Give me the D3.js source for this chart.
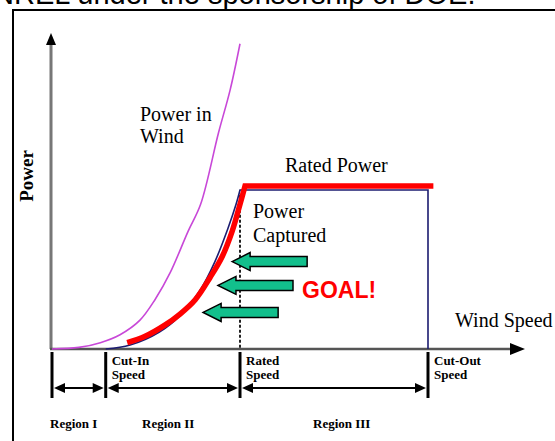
<html>
<head>
<meta charset="utf-8" />
<script src="https://d3js.org/d3.v7.min.js"></script>
<style>
  body { margin: 0; background: #fff; }
</style>
</head>
<body>
<div class="container"></div>
<script>
  // values: wind speed (arbitrary units) vs power (rated = 1)
  const windSpeed = [0, 1.5, 2.7, 3.8, 4.9, 5.75, 6.6, 7.6, 8.3, 9.3, 9.95, 10.5];
  const powerInWind = [0, 0.01, 0.04, 0.09, 0.18, 0.31, 0.48, 0.74, 0.91, 1.36, 1.63, 1.92];

  const capturedSpeed = [3, 4.36, 6.0, 7.15, 8.27, 9.1, 9.83, 10.28, 10.5];
  const capturedPower = [0, 0.025, 0.107, 0.21, 0.37, 0.55, 0.76, 0.91, 1];

  const goalSpeed = [4.2, 5.2, 6.3, 7.15, 8.0, 8.83, 9.5, 10.06, 10.5, 10.78];
  const goalPower = [0.04, 0.08, 0.15, 0.22, 0.31, 0.45, 0.58, 0.74, 0.91, 1.025];

  const ratedPower = 1;
  const cutOutSpeed = 21;
  const speedMarks = [0, 3, 10.5, 21]; // origin, cut-in, rated, cut-out
  const speedLabels = [null, ["Cut-In", "Speed"], ["Rated", "Speed"], ["Cut-Out", "Speed"]];
  const regionNames = ["Region I", "Region II", "Region III"];
  const arrowTips = [[10.06, 0.55], [9.27, 0.4], [8.44, 0.23]];
  const arrowTails = [14.25, 13.46, 12.63];

  const width = 555;
  const height = 441;
  const serif = "'Liberation Serif', 'Times New Roman', serif";
  const sans = "'Liberation Sans', Arial, sans-serif";

  const x = d3.scaleLinear().domain([0, 21]).range([52, 428]);
  const y = d3.scaleLinear().domain([0, 1]).range([349, 190]);

  const svg = d3
    .select(".container")
    .append("svg")
    .attr("width", width)
    .attr("height", height)
    .attr("viewBox", [0, 0, width, height]);

  // slide text above the frame (cut off at the top like the source)
  svg
    .append("text")
    .attr("x", -7)
    .attr("y", 4)
    .attr("font-family", sans)
    .attr("font-size", 29)
    .text("NREL under the sponsorship of DOE.");

  svg
    .append("rect")
    .attr("x", 13)
    .attr("y", 10)
    .attr("width", 700)
    .attr("height", 600)
    .attr("fill", "none")
    .attr("stroke", "#000")
    .attr("stroke-width", 2);

  // axes
  svg
    .append("line")
    .attr("x1", x(0) - 1)
    .attr("x2", x(0) - 1)
    .attr("y1", y(0))
    .attr("y2", 42)
    .attr("stroke", "#777")
    .attr("stroke-width", 3);
  svg
    .append("path")
    .attr("d", `M${x(0) - 1},33 l-5,12 h10 z`)
    .attr("fill", "#000");

  svg
    .append("line")
    .attr("x1", x(0) - 2)
    .attr("x2", 512)
    .attr("y1", y(0))
    .attr("y2", y(0))
    .attr("stroke", "#555")
    .attr("stroke-width", 2.5);
  svg
    .append("path")
    .attr("d", `M525,${y(0)} l-15,-6 v12 z`)
    .attr("fill", "#000");

  const line = d3
    .line()
    .x((d) => x(d[0]))
    .y((d) => y(d[1]))
    .curve(d3.curveCatmullRom);

  // power in wind
  svg
    .append("path")
    .attr("d", line(d3.zip(windSpeed, powerInWind)))
    .attr("fill", "none")
    .attr("stroke", "#c848d8")
    .attr("stroke-width", 1.6);

  // dotted rated speed line
  svg
    .append("line")
    .attr("x1", x(10.5))
    .attr("x2", x(10.5))
    .attr("y1", y(0.97))
    .attr("y2", y(0))
    .attr("stroke", "#222")
    .attr("stroke-width", 2)
    .attr("stroke-dasharray", "3,2");

  // power captured (navy)
  const capPath =
    line(d3.zip(capturedSpeed, capturedPower)) +
    `L${x(cutOutSpeed)},${y(ratedPower)}L${x(cutOutSpeed)},${y(0)}`;
  svg
    .append("path")
    .attr("d", capPath)
    .attr("fill", "none")
    .attr("stroke", "#1c1c70")
    .attr("stroke-width", 1.6);

  // goal curve (red)
  const goalPath =
    line(d3.zip(goalSpeed, goalPower)) +
    `L${x(21.3)},${y(goalPower[goalPower.length - 1])}`;
  svg
    .append("path")
    .attr("d", goalPath)
    .attr("fill", "none")
    .attr("stroke", "#ff0000")
    .attr("stroke-width", 5.5)
    .attr("stroke-linejoin", "miter");

  // green arrows
  svg
    .append("g")
    .selectAll("path")
    .data(arrowTips)
    .join("path")
    .attr("d", (d, i) => {
      const tx = x(d[0]);
      const ty = y(d[1]);
      const ex = x(arrowTails[i]);
      return `M${tx},${ty} l18,-9 v4 H${ex} v10 H${tx + 18} v4 z`;
    })
    .attr("fill", "#12bf8c")
    .attr("stroke", "#000")
    .attr("stroke-width", 1.5);

  svg
    .append("text")
    .attr("x", 302)
    .attr("y", 298)
    .attr("font-family", sans)
    .attr("font-weight", "bold")
    .attr("font-size", 23)
    .attr("fill", "#ff0000")
    .text("GOAL!");

  // chart labels
  const labels = svg
    .append("g")
    .attr("font-family", serif)
    .attr("font-size", 20)
    .attr("fill", "#000");
  labels.append("text").attr("x", 140).attr("y", 121).text("Power in");
  labels.append("text").attr("x", 140).attr("y", 143).text("Wind");
  labels.append("text").attr("x", 285).attr("y", 172).text("Rated Power");
  labels.append("text").attr("x", 253).attr("y", 218).text("Power");
  labels.append("text").attr("x", 253).attr("y", 242).text("Captured");
  labels.append("text").attr("x", 455).attr("y", 327).text("Wind Speed");
  labels
    .append("text")
    .attr("transform", "translate(33,176) rotate(-90)")
    .attr("text-anchor", "middle")
    .attr("font-weight", "bold")
    .attr("font-size", 19)
    .text("Power");

  // speed ticks below the axis
  svg
    .append("g")
    .selectAll("line")
    .data(speedMarks)
    .join("line")
    .attr("x1", (d) => x(d))
    .attr("x2", (d) => x(d))
    .attr("y1", y(0) + 3)
    .attr("y2", 398)
    .attr("stroke", "#000")
    .attr("stroke-width", 3);

  const small = svg
    .append("g")
    .attr("font-family", serif)
    .attr("font-weight", "bold")
    .attr("font-size", 13);
  speedMarks.forEach((s, i) => {
    if (!speedLabels[i]) return;
    speedLabels[i].forEach((t, j) => {
      small
        .append("text")
        .attr("x", x(s) + 6)
        .attr("y", 365 + j * 14)
        .text(t);
    });
  });

  // region double arrows
  const regionG = svg.append("g");
  d3.pairs(speedMarks).forEach(([a, b]) => {
    const xa = x(a) + 2;
    const xb = x(b) - 2;
    regionG
      .append("line")
      .attr("x1", xa + 6)
      .attr("x2", xb - 6)
      .attr("y1", 388)
      .attr("y2", 388)
      .attr("stroke", "#000")
      .attr("stroke-width", 2);
    regionG
      .append("path")
      .attr("d", `M${xa},388 l11,-5 v10 z M${xb},388 l-11,-5 v10 z`)
      .attr("fill", "#000");
  });

  const regionX = [50, 142, 313];
  small
    .selectAll("text.region")
    .data(regionNames)
    .join("text")
    .attr("class", "region")
    .attr("x", (d, i) => regionX[i])
    .attr("y", 428)
    .text((d) => d);
</script>
</body>
</html>
